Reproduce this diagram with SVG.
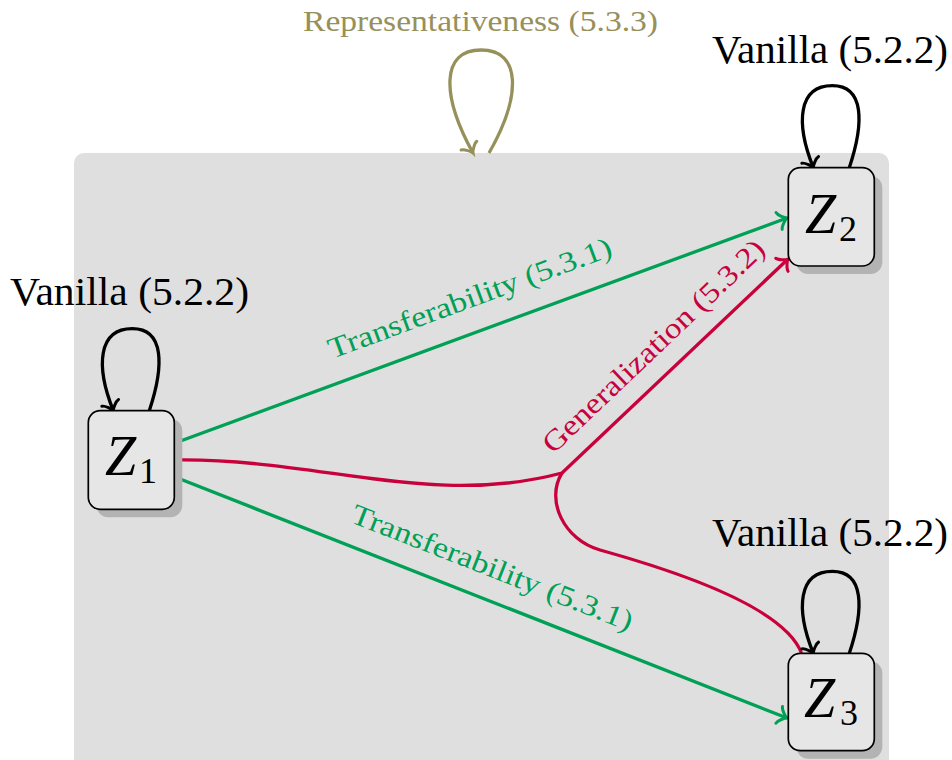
<svg xmlns="http://www.w3.org/2000/svg" width="952" height="760" viewBox="0 0 952 760">
<style>
.lbl{font-family:"Liberation Serif","DejaVu Serif",serif;}
.node rect.box{fill:#e6e6e6;stroke:#000;stroke-width:1.7;}
.node rect.sh{fill:#b3b3b3;}
.zi{font-family:"Liberation Serif","DejaVu Serif",serif;font-style:italic;font-size:56px;fill:#000;}
.zs{font-family:"Liberation Serif","DejaVu Serif",serif;font-size:36px;fill:#000;}
.e{fill:none;stroke-width:3.3;}
.g{stroke:#00a056;}
.r{stroke:#c8003c;}
.k{stroke:#000;}
.o{stroke:#96905a;}
</style>
<defs>
<marker id="ag" markerUnits="userSpaceOnUse" viewBox="-12 -12 16 24" markerWidth="16" markerHeight="24" refX="0" refY="0" orient="auto" overflow="visible">
<path d="M-8.4,9 C-7.9,5.6 -1.7,0.56 0,0 C-1.7,-0.56 -7.9,-5.6 -8.4,-9" fill="none" stroke="#00a056" stroke-width="3" stroke-linecap="round"/>
</marker>
<marker id="ar" markerUnits="userSpaceOnUse" viewBox="-12 -12 16 24" markerWidth="16" markerHeight="24" refX="0" refY="0" orient="auto" overflow="visible">
<path d="M-8.4,9 C-7.9,5.6 -1.7,0.56 0,0 C-1.7,-0.56 -7.9,-5.6 -8.4,-9" fill="none" stroke="#c8003c" stroke-width="3" stroke-linecap="round"/>
</marker>
<marker id="ak" markerUnits="userSpaceOnUse" viewBox="-12 -12 16 24" markerWidth="16" markerHeight="24" refX="0" refY="0" orient="auto" overflow="visible">
<path d="M-8.4,9 C-7.9,5.6 -1.7,0.56 0,0 C-1.7,-0.56 -7.9,-5.6 -8.4,-9" fill="none" stroke="#000" stroke-width="3" stroke-linecap="round"/>
</marker>
<marker id="ao" markerUnits="userSpaceOnUse" viewBox="-12 -12 16 24" markerWidth="16" markerHeight="24" refX="0" refY="0" orient="auto" overflow="visible">
<path d="M-8.4,9 C-7.9,5.6 -1.7,0.56 0,0 C-1.7,-0.56 -7.9,-5.6 -8.4,-9" fill="none" stroke="#96905a" stroke-width="3" stroke-linecap="round"/>
</marker>
</defs>

<rect id="panel" x="74" y="153" width="815" height="630" rx="10" fill="#dfdfdf"/>

<g id="connectors">
<path class="e o" d="M489,153 C522,95 521,50 481,50 C441,50 441,95 473,153" marker-end="url(#ao)"/>
<path class="e g" d="M175,443 L787,218" marker-end="url(#ag)"/>
<path class="e g" d="M175,477 L787,718" marker-end="url(#ag)"/>
<path class="e r" d="M175,460 C320,458 430,508 562,473 L788,259" marker-end="url(#ar)"/>
<path class="e r" d="M562,473 C545,500 564,540 600,550 C690,575 785,610 801.5,653"/>
<path class="e k" d="M149.3,410.7 C164.3,365.7 164.3,328.7 132.3,328.7 C98.3,328.7 95.3,365.7 113.3,410.7" marker-end="url(#ak)"/>
<path class="e k" d="M849.3,167.7 C864.3,122.7 864.3,85.7 832.3,85.7 C798.3,85.7 795.3,122.7 813.3,167.7" marker-end="url(#ak)"/>
<path class="e k" d="M849.3,653.3 C864.3,608.3 864.3,571.3 832.3,571.3 C798.3,571.3 795.3,608.3 813.3,653.3" marker-end="url(#ak)"/>
</g>

<g id="edge-labels">
<text class="lbl" x="480.5" y="30.5" font-size="29" fill="#96905a" text-anchor="middle" textLength="355" lengthAdjust="spacingAndGlyphs">Representativeness (5.3.3)</text>
<text class="lbl" transform="translate(473,307) rotate(-20.2)" font-size="29" fill="#00a056" text-anchor="middle" textLength="300" lengthAdjust="spacingAndGlyphs">Transferability (5.3.1)</text>
<text class="lbl" transform="translate(489,576.5) rotate(21.4)" font-size="29" fill="#00a056" text-anchor="middle" textLength="300" lengthAdjust="spacingAndGlyphs">Transferability (5.3.1)</text>
<text class="lbl" transform="translate(660,353) rotate(-43.6)" font-size="29" fill="#c8003c" text-anchor="middle" textLength="295" lengthAdjust="spacingAndGlyphs">Generalization (5.3.2)</text>
<text class="lbl" x="129.5" y="304.5" font-size="39" fill="#000" text-anchor="middle" textLength="239" lengthAdjust="spacingAndGlyphs">Vanilla (5.2.2)</text>
<text class="lbl" x="830" y="63" font-size="39" fill="#000" text-anchor="middle" textLength="236" lengthAdjust="spacingAndGlyphs">Vanilla (5.2.2)</text>
<text class="lbl" x="830" y="546" font-size="39" fill="#000" text-anchor="middle" textLength="236" lengthAdjust="spacingAndGlyphs">Vanilla (5.2.2)</text>
</g>

<g id="Z1" class="node">
<rect class="sh" x="96.3" y="418.7" width="86" height="98.6" rx="12"/>
<rect class="box" x="88.3" y="410.7" width="86" height="98.6" rx="12"/>
<text class="zi" x="105" y="475">Z</text><text class="zs" x="139" y="483">1</text>
</g>
<g id="Z2" class="node">
<rect class="sh" x="796.3" y="175.7" width="86" height="98.3" rx="12"/>
<rect class="box" x="788.3" y="167.7" width="86" height="98.3" rx="12"/>
<text class="zi" x="805" y="233">Z</text><text class="zs" x="839" y="241">2</text>
</g>
<g id="Z3" class="node">
<rect class="sh" x="796.3" y="661.3" width="86" height="97.4" rx="12"/>
<rect class="box" x="788.3" y="653.3" width="86" height="97.4" rx="12"/>
<text class="zi" x="804" y="717">Z</text><text class="zs" x="840" y="725">3</text>
</g>
</svg>
